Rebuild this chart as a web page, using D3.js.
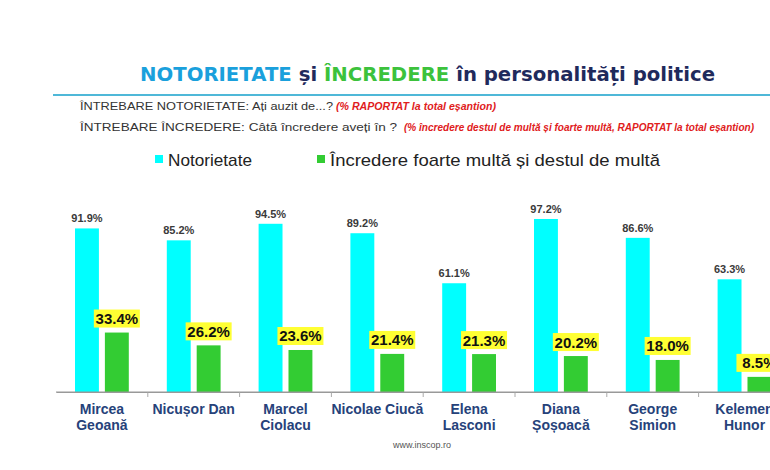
<!DOCTYPE html>
<html><head><meta charset="utf-8">
<script src="https://cdn.jsdelivr.net/npm/d3@7"></script>
<style>body{margin:0;background:#fff}svg{display:block}</style>
</head><body>
<svg id="c" width="770" height="470"></svg>
<script>
const categories = [["Mircea","Geoană"],["Nicușor Dan"],["Marcel","Ciolacu"],["Nicolae Ciucă"],["Elena","Lasconi"],["Diana","Șoșoacă"],["George","Simion"],["Kelemen","Hunor"]];
const notorietate = [91.9, 85.2, 94.5, 89.2, 61.1, 97.2, 86.6, 63.3];
const incredere = [33.4, 26.2, 23.6, 21.4, 21.3, 20.2, 18.0, 8.5];
const seriesNames = ["Notorietate", "Încredere foarte multă și destul de multă"];
const seriesColors = ["#00ffff", "#33cc33"];

const svg = d3.select("#c");
const keys = categories.map(c => c.join(" "));
const x0 = d3.scaleBand().domain(keys).range([56, 56 + 8 * 91.8]).paddingInner(0).paddingOuter(0);
const bw = x0.bandwidth();
const x1 = d3.scaleBand().domain([0, 1]).range([0.207 * bw, 0.793 * bw]).paddingInner(0.2);
const y = d3.scaleLinear().domain([0, 100]).range([392, 214]);

// title
const title = svg.append("text").attr("x", 140).attr("y", 81)
  .attr("font-family", "DejaVu Sans, Verdana, sans-serif").attr("font-weight", "bold").attr("font-size", 20)
  .attr("textLength", 575).attr("lengthAdjust", "spacingAndGlyphs");
title.append("tspan").attr("fill", "#1aa0dc").text("NOTORIETATE");
title.append("tspan").attr("fill", "#1f2a5c").text(" și ");
title.append("tspan").attr("fill", "#3cc23c").text("ÎNCREDERE");
title.append("tspan").attr("fill", "#1f2a5c").text(" în personalități politice");

svg.append("line").attr("x1", 53).attr("x2", 770).attr("y1", 95).attr("y2", 95)
  .attr("stroke", "#4fb8d8").attr("stroke-width", 2);

function qline(yv, parts) {
  parts.forEach(p => {
    svg.append("text").attr("x", p.x).attr("y", yv)
      .attr("font-family", "Liberation Sans, Arial, sans-serif").attr("font-size", p.red ? 10.5 : 11)
      .attr("font-weight", p.red ? "bold" : "normal").attr("font-style", p.red ? "italic" : "normal")
      .attr("fill", p.red ? "#e0201c" : "#333").attr("textLength", p.w).attr("lengthAdjust", "spacingAndGlyphs")
      .text(p.t);
  });
}
qline(110, [{x: 80, w: 253, t: "ÎNTREBARE  NOTORIETATE:  Ați auzit de...?"}, {x: 336, w: 160, t: "(% RAPORTAT la total eșantion)", red: true}]);
qline(131, [{x: 80, w: 317, t: "ÎNTREBARE  ÎNCREDERE:  Câtă încredere aveți în ?"}, {x: 404, w: 350, t: "(%  încredere destul de multă și foarte multă, RAPORTAT la total eșantion)", red: true}]);

// legend
const legX = [155, 317];
const legW = [84, 330];
seriesNames.forEach((n, i) => {
  svg.append("rect").attr("x", legX[i]).attr("y", 155).attr("width", 8).attr("height", 8).attr("fill", seriesColors[i]);
  svg.append("text").attr("x", legX[i] + 13).attr("y", 166).attr("font-family", "Liberation Sans, Arial, sans-serif")
    .attr("font-size", 17).attr("fill", "#222").attr("textLength", legW[i]).attr("lengthAdjust", "spacingAndGlyphs").text(n);
});

// bars
const g = svg.append("g");
const groups = g.selectAll("g.grp").data(keys).join("g").attr("class", "grp")
  .attr("transform", d => `translate(${x0(d)},0)`);
groups.append("rect").attr("x", x1(0)).attr("width", x1.bandwidth())
  .attr("y", (d, i) => y(notorietate[i])).attr("height", (d, i) => y(0) - y(notorietate[i])).attr("fill", seriesColors[0]);
groups.append("rect").attr("x", x1(1)).attr("width", x1.bandwidth())
  .attr("y", (d, i) => y(incredere[i])).attr("height", (d, i) => y(0) - y(incredere[i])).attr("fill", seriesColors[1]);
groups.append("text").attr("x", x1(0) + x1.bandwidth() / 2).attr("y", (d, i) => y(notorietate[i]) - 6)
  .attr("text-anchor", "middle").attr("font-family", "Liberation Sans, Arial, sans-serif").attr("font-size", 11)
  .attr("font-weight", "bold").attr("fill", "#3a3a3a").text((d, i) => notorietate[i].toFixed(1) + "%");
groups.append("rect").attr("x", x1(1) + x1.bandwidth() / 2 - 23).attr("width", 46).attr("height", 18)
  .attr("y", (d, i) => y(incredere[i]) - 23).attr("fill", "#ffff33");
groups.append("text").attr("x", x1(1) + x1.bandwidth() / 2).attr("y", (d, i) => y(incredere[i]) - 8.5)
  .attr("text-anchor", "middle").attr("font-family", "Liberation Sans, Arial, sans-serif").attr("font-size", 15)
  .attr("font-weight", "bold").attr("fill", "#111").text((d, i) => incredere[i].toFixed(1) + "%");

// axis
const axis = d3.axisBottom(x0).tickSize(0).tickFormat("");
const ax = svg.append("g").attr("transform", "translate(0,392)").call(axis);
ax.select(".domain").attr("stroke", "#999");
svg.append("g").selectAll("line").data(keys.slice(1)).join("line")
  .attr("x1", d => x0(d)).attr("x2", d => x0(d)).attr("y1", 392).attr("y2", 397).attr("stroke", "#aaa");
svg.append("line").attr("x1", 56).attr("x2", 770).attr("y1", 392).attr("y2", 392).attr("stroke", "#999");

// category labels
const lab = svg.append("g").selectAll("text").data(categories).join("text")
  .attr("x", (d, i) => x0(keys[i]) + bw / 2).attr("y", 414).attr("text-anchor", "middle")
  .attr("font-family", "Liberation Sans, Arial, sans-serif").attr("font-weight", "bold")
  .attr("font-size", 14).attr("fill", "#26427a");
lab.each(function(d) {
  const t = d3.select(this);
  d.forEach((line, j) => t.append("tspan").attr("x", t.attr("x")).attr("dy", j === 0 ? 0 : 16).text(line));
});

svg.append("text").attr("x", 422).attr("y", 448).attr("text-anchor", "middle")
  .attr("font-family", "Liberation Sans, sans-serif").attr("font-size", 9).attr("fill", "#555")
  .text("www.inscop.ro");
</script>
</body></html>
